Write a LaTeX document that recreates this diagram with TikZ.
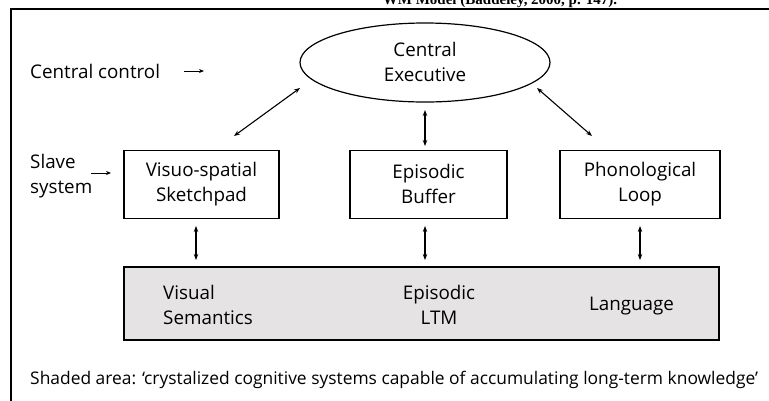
\documentclass[tikz,border=0pt]{standalone}
\usepackage{fontspec}
\setmainfont{Open Sans}
\newfontfamily\headfont{Liberation Serif}
\usetikzlibrary{arrows.meta,shapes.geometric}
\newcommand\mystr{\rule[-2pt]{0pt}{18pt}}
\begin{document}
\begin{tikzpicture}[x=1pt,y=-1pt,
  every node/.style={font=\fontsize{18.8}{25}\selectfont, inner sep=0pt},
  txt/.style={execute at begin node=\mystr, execute at end node=\mystr},
  wbox/.style={draw, txt, line width=1.2pt, minimum width=155pt, minimum height=68pt, align=center},
  dbl/.style={{Stealth[length=6pt,width=4.5pt]}-{Stealth[length=6pt,width=4.5pt]}, line width=1.1pt},
  sgl/.style={-{Stealth[length=5pt,width=4pt]}, line width=0.8pt}]
\clip (0,0) rectangle (769,400);
\fill[white] (0,0) rectangle (769,400);
\node[anchor=base, font=\headfont\bfseries\fontsize{15}{17}\selectfont] (head) at (500,4) {WM Model (Baddeley, 2000, p. 147).};
\draw[line width=1.8pt] (11,420) |- (790,9);
% central executive
\node[draw, ellipse, txt, line width=1.2pt, minimum width=250pt, minimum height=79pt, align=center] (ce) at (425,62.5) {Central\\Executive};
% labels
\node[anchor=west, txt] (cc) at (30,71.3) {Central control};
\coordinate (cca) at (184,71);
\coordinate (ccb) at (204,71);
\draw[sgl] (cca) -- (ccb);
\node[anchor=west, align=left, txt] (ss) at (30,176.5) {Slave\\system};
\coordinate (ssa) at (91,173);
\coordinate (ssb) at (111,173);
\draw[sgl] (ssa) -- (ssb);
% slave boxes
\node[wbox] (vs) at (201.5,184.5) {Visuo-spatial\\Sketchpad};
\node[wbox, minimum width=157pt] (eb) at (428.5,184.5) {Episodic\\Buffer};
\node[wbox, minimum width=160pt] (pl) at (640,184.5) {Phonological\\Loop};
% long-term
\node[draw, fill={rgb,255:red,229;green,227;blue,228}, line width=1.2pt, minimum width=595pt, minimum height=73pt] (ltm) at (421.5,303.5) {};
\node[anchor=west, align=left, txt] (vsem) at (163,305.5) {Visual\\Semantics};
\node[align=center, txt] (eltm) at (439,305.5) {Episodic\\LTM};
\node[txt] (lang) at (631.5,305) {Language};
% arrows
\coordinate (a1) at (234,136); \coordinate (a2) at (300,88);
\draw[dbl] (a1) -- (a2);
\coordinate (b1) at (425,110); \coordinate (b2) at (425,146);
\draw[dbl] (b1) -- (b2);
\coordinate (c1) at (537,88); \coordinate (c2) at (592,136);
\draw[dbl] (c1) -- (c2);
\coordinate (d1) at (196,226); \coordinate (d2) at (196,260);
\draw[dbl] (d1) -- (d2);
\coordinate (e1) at (425,226); \coordinate (e2) at (425,260);
\draw[dbl] (e1) -- (e2);
\coordinate (f1) at (640,226); \coordinate (f2) at (640,260);
\draw[dbl] (f1) -- (f2);
% footnote
\node[anchor=west, txt, font=\fontsize{17.4}{25}\selectfont] (foot) at (30,379) {Shaded area: ‘crystalized cognitive systems capable of accumulating long-term knowledge’};
\end{tikzpicture}
\end{document}
